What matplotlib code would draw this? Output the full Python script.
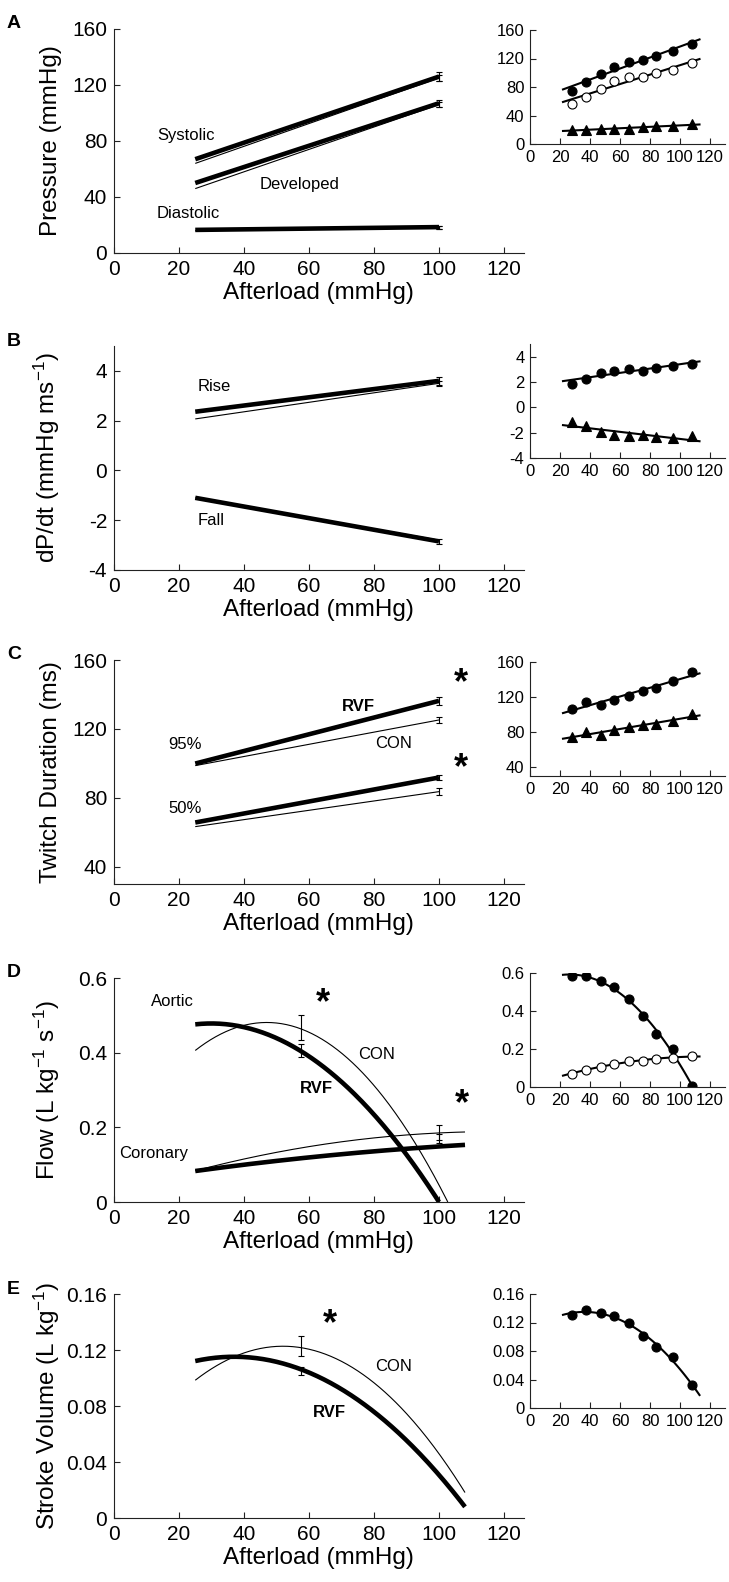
import numpy as np
import matplotlib
matplotlib.use("Agg")
import matplotlib.pyplot as plt

plt.rcParams['font.family'] = ['Liberation Sans', 'DejaVu Sans']
plt.rcParams['mathtext.fontset'] = 'custom'
plt.rcParams['mathtext.rm'] = 'Liberation Sans'
plt.rcParams['mathtext.it'] = 'Liberation Sans:italic'
plt.rcParams['mathtext.bf'] = 'Liberation Sans:bold'
plt.rcParams['axes.unicode_minus'] = False

# ---------------- data: main panels (fitted group curves) ----------------
x_lin = [25, 100]
# A: pressure (mmHg)
sys_rvf = [67, 126]
sys_con = [64, 125]
dev_rvf = [50, 107]
dev_con = [46, 106]
dia_rvf = [16.5, 18.5]
dia_con = [16, 18]
A_err_rvf = [126, 107, 18.5]
A_err_con = [125, 106, 18]
A_sem_rvf = [3, 2.5, 1]
A_sem_con = [2, 2, 1]
# B: dP/dt
rise_rvf = [2.36, 3.6]
rise_con = [2.07, 3.5]
fall_rvf = [-1.1, -2.85]
fall_con = [-1.1, -2.8]
B_err_y = [3.6, 3.5, -2.85]
B_sem = [0.15, 0.1, 0.1]
# C: twitch duration (ms)
p95_rvf = [99.9, 136.3]
p95_con = [98.7, 125.2]
p50_rvf = [65.7, 91.8]
p50_con = [63.3, 83.6]
C_err_y = [136.3, 125.2, 91.8, 83.6]
C_sem = [2.5, 1.5, 1.5, 2.0]
# D: flow (L/kg/s)
aor_rvf_x = [25, 40, 55, 70, 85, 100]
aor_rvf_y = [0.476, 0.468, 0.417, 0.322, 0.183, 0.0]
aor_con_x = [25, 40, 55, 70, 85, 102.7]
aor_con_y = [0.406, 0.473, 0.471, 0.399, 0.257, 0.0]
cor_x = [25, 50, 75, 108]
cor_rvf_y = [0.083, 0.110, 0.132, 0.153]
cor_con_y = [0.083, 0.135, 0.165, 0.188]
D_err_x = [57.5, 57.5, 100, 100]
D_err_y = [0.467, 0.405, 0.185, 0.170]
D_sem = [0.034, 0.017, 0.02, 0.012]
# E: stroke volume (L/kg)
sv_x = [25, 40, 55, 70, 85, 108]
sv_rvf_y = [0.1121, 0.1150, 0.1083, 0.0920, 0.0661, 0.008]
sv_con_y = [0.0984, 0.1179, 0.1224, 0.1119, 0.0864, 0.0182]
E_err_x = [57.5, 57.5]
E_err_y = [0.123, 0.105]
E_sem = [0.007, 0.003]

# ---------------- data: insets (individual heart example) ----------------
ins_x = [28, 37, 47, 56, 66, 75, 84, 95, 108]
insA_sys = [75, 87, 98, 108.5, 115, 118, 123.5, 131, 140.4]
insA_dev = [56, 66.4, 77.7, 88.9, 94.5, 94.5, 99.2, 103.9, 113.2]
insA_dia = [20, 19.6, 21, 20.6, 21.5, 24, 25, 25.3, 27.5]
insB_rise = [1.85, 2.22, 2.74, 2.9, 3.06, 2.9, 3.08, 3.29, 3.4]
insB_fall = [-1.12, -1.46, -1.93, -2.19, -2.25, -2.19, -2.35, -2.46, -2.25]
insC_95 = [106.7, 114.3, 110.5, 117, 120.8, 126.9, 130.7, 138.3, 148.6]
insC_50 = [74.3, 80, 77, 82.7, 85.7, 87.6, 88.8, 92.6, 100.2]
insD_aor = [0.586, 0.586, 0.556, 0.524, 0.462, 0.373, 0.280, 0.201, 0.005]
insD_cor = [0.071, 0.089, 0.107, 0.121, 0.138, 0.138, 0.146, 0.153, 0.163]
insE_sv = [0.1306, 0.1376, 0.1329, 0.1297, 0.119, 0.1012, 0.0854, 0.0709, 0.0327]

x_ticks = [0, 20, 40, 60, 80, 100, 120]

# ---------------- layout ----------------
W, H = 729, 1582
fig = plt.figure(figsize=(W / 100, H / 100), dpi=100)


def add_ax(left, top, width, height):
    return fig.add_axes([left / W, 1 - (top + height) / H, width / W, height / H])


def style(ax, fs, pad):
    for s in ['top', 'right']:
        ax.spines[s].set_visible(False)
    for s in ['left', 'bottom']:
        ax.spines[s].set_linewidth(0.8)
        ax.spines[s].set_color('#222222')
    ax.tick_params(direction='in', length=4, width=0.8, labelsize=fs,
                   color='#222222', labelcolor='black', pad=pad)


main_tops = [29, 346, 660, 978, 1294]
ins_tops = [30, 344, 662, 973, 1294]
letters = ['A', 'B', 'C', 'D', 'E']
MAIN_L, MAIN_W, MAIN_H = 114, 409.5, 224
INS_L, INS_W, INS_H = 530, 195, 114
THICK, THIN = 3.3, 0.8

ylims = [(0, 160), (-4, 5), (30, 160), (0, 0.6), (0, 0.16)]
yticks = [[0, 40, 80, 120, 160], [-4, -2, 0, 2, 4], [40, 80, 120, 160],
          [0, 0.2, 0.4, 0.6], [0, 0.04, 0.08, 0.12, 0.16]]
ytlabels = [None, None, None, ['0', '0.2', '0.4', '0.6'],
            ['0', '0.04', '0.08', '0.12', '0.16']]
ylabels = ['Pressure (mmHg)', 'dP/dt (mmHg ms$^{-1}$)', 'Twitch Duration (ms)',
           'Flow (L kg$^{-1}$ s$^{-1}$)', 'Stroke Volume (L kg$^{-1}$)']

mains, insets = [], []
for i in range(5):
    ax = add_ax(MAIN_L, main_tops[i], MAIN_W, MAIN_H)
    style(ax, 15, 5)
    ax.set_xlim(0, 126)
    ax.set_ylim(*ylims[i])
    ax.set_xticks(x_ticks)
    ax.set_yticks(yticks[i])
    if ytlabels[i]:
        ax.set_yticklabels(ytlabels[i])
    ax.set_xlabel('Afterload (mmHg)', fontsize=17.5, labelpad=2)
    ax.set_ylabel(ylabels[i], fontsize=17.5)
    ax.yaxis.set_label_coords(-0.127, 0.5)
    fig.text(7 / W, 1 - (main_tops[i] - 5) / H, letters[i], fontsize=14,
             fontweight='bold', ha='left', va='center')
    mains.append(ax)

    axi = add_ax(INS_L, ins_tops[i], INS_W, INS_H)
    style(axi, 12, 4)
    axi.set_xlim(0, 130)
    axi.set_ylim(*ylims[i])
    axi.set_xticks(x_ticks)
    axi.set_yticks(yticks[i])
    if ytlabels[i]:
        axi.set_yticklabels(ytlabels[i])
    insets.append(axi)


def line(ax, x, y, thick):
    ax.plot(x, y, color='black', lw=THICK if thick else THIN,
            solid_capstyle='butt')


def curve(ax, x, y, thick, deg=2):
    c = np.polyfit(x, y, deg)
    xs = np.linspace(x[0], x[-1], 200)
    line(ax, xs, np.polyval(c, xs), thick)


def ebar(ax, x, y, e):
    ax.errorbar(x, y, yerr=e, fmt='none', ecolor='black', elinewidth=0.8,
                capsize=2.5, capthick=0.8)


def txt(ax, x, y, s, bold=False, size=12, ha='left'):
    ax.text(x, y, s, fontsize=size, ha=ha, va='center',
            fontweight='bold' if bold else 'normal')


def star(ax, x, y):
    ax.text(x, y, '*', fontsize=26, fontweight='bold', ha='center', va='center')


# ---- A main
ax = mains[0]
for y in (sys_con, dev_con, dia_con):
    line(ax, x_lin, y, False)
for y in (sys_rvf, dev_rvf, dia_rvf):
    line(ax, x_lin, y, True)
ebar(ax, [100] * 3, A_err_rvf, A_sem_rvf)
ebar(ax, [100] * 3, A_err_con, A_sem_con)
txt(ax, 13.2, 84, 'Systolic')
txt(ax, 44.7, 49, 'Developed')
txt(ax, 13.2, 28, 'Diastolic')

# ---- B main
ax = mains[1]
line(ax, x_lin, rise_con, False)
line(ax, x_lin, fall_con, False)
line(ax, x_lin, rise_rvf, True)
line(ax, x_lin, fall_rvf, True)
ebar(ax, [100] * 3, B_err_y, B_sem)
txt(ax, 25.8, 3.36, 'Rise')
txt(ax, 25.8, -2.0, 'Fall')

# ---- C main
ax = mains[2]
line(ax, x_lin, p95_con, False)
line(ax, x_lin, p50_con, False)
line(ax, x_lin, p95_rvf, True)
line(ax, x_lin, p50_rvf, True)
ebar(ax, [100] * 4, C_err_y, C_sem)
txt(ax, 70, 133, 'RVF', bold=True)
txt(ax, 80.3, 111.7, 'CON')
txt(ax, 16.7, 111, '95%')
txt(ax, 16.7, 74, '50%')
star(ax, 106.7, 146)
star(ax, 106.7, 97)

# ---- D main
ax = mains[3]
curve(ax, aor_con_x, aor_con_y, False)
curve(ax, cor_x, cor_con_y, False)
curve(ax, aor_rvf_x, aor_rvf_y, True)
curve(ax, cor_x, cor_rvf_y, True)
ebar(ax, D_err_x, D_err_y, D_sem)
txt(ax, 11.3, 0.537, 'Aortic')
txt(ax, 75, 0.394, 'CON')
txt(ax, 57.2, 0.305, 'RVF', bold=True)
txt(ax, 1.5, 0.13, 'Coronary')
star(ax, 64.3, 0.53)
star(ax, 107, 0.26)

# ---- E main
ax = mains[4]
curve(ax, sv_x, sv_con_y, False)
curve(ax, sv_x, sv_rvf_y, True)
ebar(ax, E_err_x, E_err_y, E_sem)
txt(ax, 80.3, 0.108, 'CON')
txt(ax, 61.3, 0.0755, 'RVF', bold=True)
star(ax, 66.5, 0.138)

# ---- insets
fx = np.linspace(22, 113, 100)
MS = 6.5


def fit(axi, y, deg):
    c = np.polyfit(ins_x, y, deg)
    axi.plot(fx, np.polyval(c, fx), color='black', lw=1.5)


def pts(axi, y, marker, filled=True):
    axi.plot(ins_x, y, linestyle='none', marker=marker, ms=MS,
             mfc='black' if filled else 'white', mec='black', mew=0.8)


axi = insets[0]
fit(axi, insA_sys, 1); fit(axi, insA_dev, 1); fit(axi, insA_dia, 1)
pts(axi, insA_sys, 'o'); pts(axi, insA_dev, 'o', False); pts(axi, insA_dia, '^')

axi = insets[1]
fit(axi, insB_rise, 1); fit(axi, insB_fall, 1)
pts(axi, insB_rise, 'o'); pts(axi, insB_fall, '^')

axi = insets[2]
fit(axi, insC_95, 1); fit(axi, insC_50, 1)
pts(axi, insC_95, 'o'); pts(axi, insC_50, '^')

axi = insets[3]
fit(axi, insD_aor, 2); fit(axi, insD_cor, 2)
pts(axi, insD_aor, 'o'); pts(axi, insD_cor, 'o', False)

axi = insets[4]
fit(axi, insE_sv, 2)
pts(axi, insE_sv, 'o')

fig.savefig('out.png', dpi=100)
